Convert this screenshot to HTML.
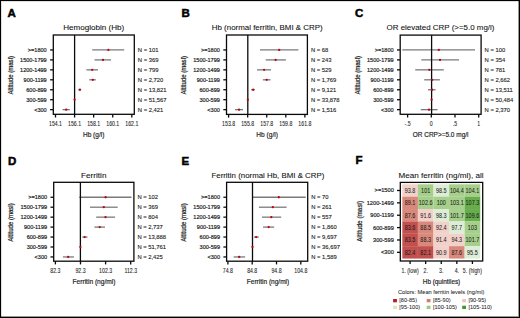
<!DOCTYPE html>
<html><head><meta charset="utf-8"><style>
html,body{margin:0;padding:0;background:#fff;}
body{width:520px;height:318px;overflow:hidden;position:relative;}
#bd{position:absolute;left:0;top:0;width:520px;height:318px;box-sizing:border-box;border:1px solid #000;box-shadow:inset -1px -1px 0 rgba(0,0,0,0.4), inset 1px 1px 0 rgba(0,0,0,0.12);}
svg{display:block;font-family:"Liberation Sans",sans-serif;}
</style></head><body>
<svg width="520" height="318" viewBox="0 0 520 318">
<g>
<rect x="0" y="0" width="520" height="318" fill="#fff"/>
<text transform="translate(7.60,17.20) scale(1.0,1)" font-size="11.5" text-anchor="start" font-weight="bold" fill="#000" stroke="#000" stroke-width="0.5">A</text>
<text transform="translate(93.70,30.40) scale(1.076,1)" font-size="7.5" text-anchor="middle" font-weight="normal" fill="#111" stroke="#111" stroke-width="0.08">Hemoglobin (Hb)</text>
<line x1="50.10" y1="49.95" x2="53.30" y2="49.95" stroke="#0a0a0a" stroke-width="1.3"/>
<text transform="translate(46.70,51.90) scale(0.93,1)" font-size="6.0" text-anchor="end" font-weight="normal" fill="#1e1e1e" stroke="#1e1e1e" stroke-width="0.2">&gt;=1800</text>
<text transform="translate(137.80,51.85) scale(0.99,1)" font-size="5.9" text-anchor="start" font-weight="normal" fill="#1e1e1e" stroke="#1e1e1e" stroke-width="0.12">N = 101</text>
<line x1="92.20" y1="49.95" x2="124.20" y2="49.95" stroke="#7a7a7a" stroke-width="1.3"/>
<line x1="50.10" y1="59.90" x2="53.30" y2="59.90" stroke="#0a0a0a" stroke-width="1.3"/>
<text transform="translate(46.70,61.85) scale(0.93,1)" font-size="6.0" text-anchor="end" font-weight="normal" fill="#1e1e1e" stroke="#1e1e1e" stroke-width="0.2">1500-1799</text>
<text transform="translate(137.80,61.80) scale(0.99,1)" font-size="5.9" text-anchor="start" font-weight="normal" fill="#1e1e1e" stroke="#1e1e1e" stroke-width="0.12">N = 369</text>
<line x1="94.50" y1="59.90" x2="111.00" y2="59.90" stroke="#7a7a7a" stroke-width="1.3"/>
<line x1="50.10" y1="69.85" x2="53.30" y2="69.85" stroke="#0a0a0a" stroke-width="1.3"/>
<text transform="translate(46.70,71.80) scale(0.93,1)" font-size="6.0" text-anchor="end" font-weight="normal" fill="#1e1e1e" stroke="#1e1e1e" stroke-width="0.2">1200-1499</text>
<text transform="translate(137.80,71.75) scale(0.99,1)" font-size="5.9" text-anchor="start" font-weight="normal" fill="#1e1e1e" stroke="#1e1e1e" stroke-width="0.12">N = 799</text>
<line x1="86.40" y1="69.85" x2="98.00" y2="69.85" stroke="#7a7a7a" stroke-width="1.3"/>
<line x1="50.10" y1="79.80" x2="53.30" y2="79.80" stroke="#0a0a0a" stroke-width="1.3"/>
<text transform="translate(46.70,81.75) scale(0.93,1)" font-size="6.0" text-anchor="end" font-weight="normal" fill="#1e1e1e" stroke="#1e1e1e" stroke-width="0.2">900-1199</text>
<text transform="translate(137.80,81.70) scale(0.99,1)" font-size="5.9" text-anchor="start" font-weight="normal" fill="#1e1e1e" stroke="#1e1e1e" stroke-width="0.12">N = 2,720</text>
<line x1="89.30" y1="79.80" x2="95.80" y2="79.80" stroke="#7a7a7a" stroke-width="1.3"/>
<line x1="50.10" y1="89.75" x2="53.30" y2="89.75" stroke="#0a0a0a" stroke-width="1.3"/>
<text transform="translate(46.70,91.70) scale(0.93,1)" font-size="6.0" text-anchor="end" font-weight="normal" fill="#1e1e1e" stroke="#1e1e1e" stroke-width="0.2">600-899</text>
<text transform="translate(137.80,91.65) scale(0.99,1)" font-size="5.9" text-anchor="start" font-weight="normal" fill="#1e1e1e" stroke="#1e1e1e" stroke-width="0.12">N = 13,821</text>
<line x1="78.30" y1="89.75" x2="81.20" y2="89.75" stroke="#7a7a7a" stroke-width="1.3"/>
<line x1="50.10" y1="99.70" x2="53.30" y2="99.70" stroke="#0a0a0a" stroke-width="1.3"/>
<text transform="translate(46.70,101.65) scale(0.93,1)" font-size="6.0" text-anchor="end" font-weight="normal" fill="#1e1e1e" stroke="#1e1e1e" stroke-width="0.2">300-599</text>
<text transform="translate(137.80,101.60) scale(0.99,1)" font-size="5.9" text-anchor="start" font-weight="normal" fill="#1e1e1e" stroke="#1e1e1e" stroke-width="0.12">N = 51,567</text>
<line x1="50.10" y1="109.65" x2="53.30" y2="109.65" stroke="#0a0a0a" stroke-width="1.3"/>
<text transform="translate(46.70,111.60) scale(0.93,1)" font-size="6.0" text-anchor="end" font-weight="normal" fill="#1e1e1e" stroke="#1e1e1e" stroke-width="0.2">&lt;300</text>
<text transform="translate(137.80,111.55) scale(0.99,1)" font-size="5.9" text-anchor="start" font-weight="normal" fill="#1e1e1e" stroke="#1e1e1e" stroke-width="0.12">N = 2,421</text>
<line x1="62.50" y1="109.65" x2="69.80" y2="109.65" stroke="#7a7a7a" stroke-width="1.3"/>
<line x1="74.60" y1="35.00" x2="74.60" y2="114.30" stroke="#0a0a0a" stroke-width="1.3"/>
<circle cx="108.40" cy="49.95" r="1.15" fill="#c2000e"/>
<circle cx="103.00" cy="59.90" r="1.15" fill="#c2000e"/>
<circle cx="92.20" cy="69.85" r="1.15" fill="#c2000e"/>
<circle cx="92.80" cy="79.80" r="1.15" fill="#c2000e"/>
<circle cx="79.90" cy="89.75" r="1.15" fill="#c2000e"/>
<circle cx="74.60" cy="99.70" r="1.15" fill="#c2000e"/>
<circle cx="66.20" cy="109.65" r="1.15" fill="#c2000e"/>
<rect x="53.30" y="35.00" width="81.00" height="79.30" fill="none" stroke="#0a0a0a" stroke-width="1.3"/>
<line x1="55.50" y1="114.30" x2="55.50" y2="117.50" stroke="#0a0a0a" stroke-width="1.3"/>
<text transform="translate(55.50,126.30) scale(0.79,1)" font-size="6.6" text-anchor="middle" font-weight="normal" fill="#1e1e1e" stroke="#1e1e1e" stroke-width="0.08">154.1</text>
<line x1="74.58" y1="114.30" x2="74.58" y2="117.50" stroke="#0a0a0a" stroke-width="1.3"/>
<text transform="translate(74.58,126.30) scale(0.79,1)" font-size="6.6" text-anchor="middle" font-weight="normal" fill="#1e1e1e" stroke="#1e1e1e" stroke-width="0.08">156.1</text>
<line x1="93.66" y1="114.30" x2="93.66" y2="117.50" stroke="#0a0a0a" stroke-width="1.3"/>
<text transform="translate(93.66,126.30) scale(0.79,1)" font-size="6.6" text-anchor="middle" font-weight="normal" fill="#1e1e1e" stroke="#1e1e1e" stroke-width="0.08">158.1</text>
<line x1="112.74" y1="114.30" x2="112.74" y2="117.50" stroke="#0a0a0a" stroke-width="1.3"/>
<text transform="translate(112.74,126.30) scale(0.79,1)" font-size="6.6" text-anchor="middle" font-weight="normal" fill="#1e1e1e" stroke="#1e1e1e" stroke-width="0.08">160.1</text>
<line x1="131.82" y1="114.30" x2="131.82" y2="117.50" stroke="#0a0a0a" stroke-width="1.3"/>
<text transform="translate(131.82,126.30) scale(0.79,1)" font-size="6.6" text-anchor="middle" font-weight="normal" fill="#1e1e1e" stroke="#1e1e1e" stroke-width="0.08">162.1</text>
<text transform="translate(93.65,136.70) scale(0.8517,1)" font-size="7.7" text-anchor="middle" font-weight="normal" fill="#1e1e1e" stroke="#1e1e1e" stroke-width="0.2">Hb (g/l)</text>
<text transform="translate(13.00,75.30) rotate(-90) scale(0.8882,1)" font-size="6.8" text-anchor="middle" font-weight="normal" fill="#1e1e1e" stroke="#1e1e1e" stroke-width="0.2">Altitude (masl)</text>
<text transform="translate(181.60,17.20) scale(1.0,1)" font-size="11.5" text-anchor="start" font-weight="bold" fill="#000" stroke="#000" stroke-width="0.5">B</text>
<text transform="translate(267.20,30.40) scale(1.057,1)" font-size="7.5" text-anchor="middle" font-weight="normal" fill="#111" stroke="#111" stroke-width="0.08">Hb (normal ferritin, BMI &amp; CRP)</text>
<line x1="223.30" y1="49.95" x2="226.50" y2="49.95" stroke="#0a0a0a" stroke-width="1.3"/>
<text transform="translate(219.90,51.90) scale(0.93,1)" font-size="6.0" text-anchor="end" font-weight="normal" fill="#1e1e1e" stroke="#1e1e1e" stroke-width="0.2">&gt;=1800</text>
<text transform="translate(310.90,51.85) scale(0.99,1)" font-size="5.9" text-anchor="start" font-weight="normal" fill="#1e1e1e" stroke="#1e1e1e" stroke-width="0.12">N = 68</text>
<line x1="260.00" y1="49.95" x2="298.40" y2="49.95" stroke="#7a7a7a" stroke-width="1.3"/>
<line x1="223.30" y1="59.90" x2="226.50" y2="59.90" stroke="#0a0a0a" stroke-width="1.3"/>
<text transform="translate(219.90,61.85) scale(0.93,1)" font-size="6.0" text-anchor="end" font-weight="normal" fill="#1e1e1e" stroke="#1e1e1e" stroke-width="0.2">1500-1799</text>
<text transform="translate(310.90,61.80) scale(0.99,1)" font-size="5.9" text-anchor="start" font-weight="normal" fill="#1e1e1e" stroke="#1e1e1e" stroke-width="0.12">N = 243</text>
<line x1="265.70" y1="59.90" x2="285.90" y2="59.90" stroke="#7a7a7a" stroke-width="1.3"/>
<line x1="223.30" y1="69.85" x2="226.50" y2="69.85" stroke="#0a0a0a" stroke-width="1.3"/>
<text transform="translate(219.90,71.80) scale(0.93,1)" font-size="6.0" text-anchor="end" font-weight="normal" fill="#1e1e1e" stroke="#1e1e1e" stroke-width="0.2">1200-1499</text>
<text transform="translate(310.90,71.75) scale(0.99,1)" font-size="5.9" text-anchor="start" font-weight="normal" fill="#1e1e1e" stroke="#1e1e1e" stroke-width="0.12">N = 529</text>
<line x1="257.10" y1="69.85" x2="271.00" y2="69.85" stroke="#7a7a7a" stroke-width="1.3"/>
<line x1="223.30" y1="79.80" x2="226.50" y2="79.80" stroke="#0a0a0a" stroke-width="1.3"/>
<text transform="translate(219.90,81.75) scale(0.93,1)" font-size="6.0" text-anchor="end" font-weight="normal" fill="#1e1e1e" stroke="#1e1e1e" stroke-width="0.2">900-1199</text>
<text transform="translate(310.90,81.70) scale(0.99,1)" font-size="5.9" text-anchor="start" font-weight="normal" fill="#1e1e1e" stroke="#1e1e1e" stroke-width="0.12">N = 1,769</text>
<line x1="262.90" y1="79.80" x2="270.50" y2="79.80" stroke="#7a7a7a" stroke-width="1.3"/>
<line x1="223.30" y1="89.75" x2="226.50" y2="89.75" stroke="#0a0a0a" stroke-width="1.3"/>
<text transform="translate(219.90,91.70) scale(0.93,1)" font-size="6.0" text-anchor="end" font-weight="normal" fill="#1e1e1e" stroke="#1e1e1e" stroke-width="0.2">600-899</text>
<text transform="translate(310.90,91.65) scale(0.99,1)" font-size="5.9" text-anchor="start" font-weight="normal" fill="#1e1e1e" stroke="#1e1e1e" stroke-width="0.12">N = 9,121</text>
<line x1="251.10" y1="89.75" x2="254.90" y2="89.75" stroke="#7a7a7a" stroke-width="1.3"/>
<line x1="223.30" y1="99.70" x2="226.50" y2="99.70" stroke="#0a0a0a" stroke-width="1.3"/>
<text transform="translate(219.90,101.65) scale(0.93,1)" font-size="6.0" text-anchor="end" font-weight="normal" fill="#1e1e1e" stroke="#1e1e1e" stroke-width="0.2">300-599</text>
<text transform="translate(310.90,101.60) scale(0.99,1)" font-size="5.9" text-anchor="start" font-weight="normal" fill="#1e1e1e" stroke="#1e1e1e" stroke-width="0.12">N = 33,878</text>
<line x1="223.30" y1="109.65" x2="226.50" y2="109.65" stroke="#0a0a0a" stroke-width="1.3"/>
<text transform="translate(219.90,111.60) scale(0.93,1)" font-size="6.0" text-anchor="end" font-weight="normal" fill="#1e1e1e" stroke="#1e1e1e" stroke-width="0.2">&lt;300</text>
<text transform="translate(310.90,111.55) scale(0.99,1)" font-size="5.9" text-anchor="start" font-weight="normal" fill="#1e1e1e" stroke="#1e1e1e" stroke-width="0.12">N = 1,516</text>
<line x1="235.00" y1="109.65" x2="243.00" y2="109.65" stroke="#7a7a7a" stroke-width="1.3"/>
<line x1="247.80" y1="35.00" x2="247.80" y2="114.40" stroke="#0a0a0a" stroke-width="1.3"/>
<circle cx="279.20" cy="49.95" r="1.15" fill="#c2000e"/>
<circle cx="275.60" cy="59.90" r="1.15" fill="#c2000e"/>
<circle cx="264.10" cy="69.85" r="1.15" fill="#c2000e"/>
<circle cx="266.70" cy="79.80" r="1.15" fill="#c2000e"/>
<circle cx="253.20" cy="89.75" r="1.15" fill="#c2000e"/>
<circle cx="247.80" cy="99.70" r="1.15" fill="#c2000e"/>
<circle cx="239.00" cy="109.65" r="1.15" fill="#c2000e"/>
<rect x="226.50" y="35.00" width="80.90" height="79.40" fill="none" stroke="#0a0a0a" stroke-width="1.3"/>
<line x1="228.60" y1="114.40" x2="228.60" y2="117.60" stroke="#0a0a0a" stroke-width="1.3"/>
<text transform="translate(228.60,126.40) scale(0.79,1)" font-size="6.6" text-anchor="middle" font-weight="normal" fill="#1e1e1e" stroke="#1e1e1e" stroke-width="0.08">153.8</text>
<line x1="247.67" y1="114.40" x2="247.67" y2="117.60" stroke="#0a0a0a" stroke-width="1.3"/>
<text transform="translate(247.67,126.40) scale(0.79,1)" font-size="6.6" text-anchor="middle" font-weight="normal" fill="#1e1e1e" stroke="#1e1e1e" stroke-width="0.08">155.8</text>
<line x1="266.74" y1="114.40" x2="266.74" y2="117.60" stroke="#0a0a0a" stroke-width="1.3"/>
<text transform="translate(266.74,126.40) scale(0.79,1)" font-size="6.6" text-anchor="middle" font-weight="normal" fill="#1e1e1e" stroke="#1e1e1e" stroke-width="0.08">157.8</text>
<line x1="285.81" y1="114.40" x2="285.81" y2="117.60" stroke="#0a0a0a" stroke-width="1.3"/>
<text transform="translate(285.81,126.40) scale(0.79,1)" font-size="6.6" text-anchor="middle" font-weight="normal" fill="#1e1e1e" stroke="#1e1e1e" stroke-width="0.08">159.8</text>
<line x1="304.88" y1="114.40" x2="304.88" y2="117.60" stroke="#0a0a0a" stroke-width="1.3"/>
<text transform="translate(304.88,126.40) scale(0.79,1)" font-size="6.6" text-anchor="middle" font-weight="normal" fill="#1e1e1e" stroke="#1e1e1e" stroke-width="0.08">161.8</text>
<text transform="translate(267.10,136.80) scale(0.8517,1)" font-size="7.7" text-anchor="middle" font-weight="normal" fill="#1e1e1e" stroke="#1e1e1e" stroke-width="0.2">Hb (g/l)</text>
<text transform="translate(186.30,75.30) rotate(-90) scale(0.8882,1)" font-size="6.8" text-anchor="middle" font-weight="normal" fill="#1e1e1e" stroke="#1e1e1e" stroke-width="0.2">Altitude (masl)</text>
<text transform="translate(355.00,17.20) scale(1.0,1)" font-size="11.5" text-anchor="start" font-weight="bold" fill="#000" stroke="#000" stroke-width="0.5">C</text>
<text transform="translate(440.50,30.40) scale(1.0589,1)" font-size="7.5" text-anchor="middle" font-weight="normal" fill="#111" stroke="#111" stroke-width="0.08">OR elevated CRP (&gt;=5.0 mg/l)</text>
<line x1="397.00" y1="49.95" x2="400.20" y2="49.95" stroke="#0a0a0a" stroke-width="1.3"/>
<text transform="translate(393.60,51.90) scale(0.93,1)" font-size="6.0" text-anchor="end" font-weight="normal" fill="#1e1e1e" stroke="#1e1e1e" stroke-width="0.2">&gt;=1800</text>
<text transform="translate(484.60,51.85) scale(0.99,1)" font-size="5.9" text-anchor="start" font-weight="normal" fill="#1e1e1e" stroke="#1e1e1e" stroke-width="0.12">N = 100</text>
<line x1="402.30" y1="49.95" x2="475.00" y2="49.95" stroke="#7a7a7a" stroke-width="1.3"/>
<line x1="397.00" y1="59.90" x2="400.20" y2="59.90" stroke="#0a0a0a" stroke-width="1.3"/>
<text transform="translate(393.60,61.85) scale(0.93,1)" font-size="6.0" text-anchor="end" font-weight="normal" fill="#1e1e1e" stroke="#1e1e1e" stroke-width="0.2">1500-1799</text>
<text transform="translate(484.60,61.80) scale(0.99,1)" font-size="5.9" text-anchor="start" font-weight="normal" fill="#1e1e1e" stroke="#1e1e1e" stroke-width="0.12">N = 354</text>
<line x1="421.30" y1="59.90" x2="459.00" y2="59.90" stroke="#7a7a7a" stroke-width="1.3"/>
<line x1="397.00" y1="69.85" x2="400.20" y2="69.85" stroke="#0a0a0a" stroke-width="1.3"/>
<text transform="translate(393.60,71.80) scale(0.93,1)" font-size="6.0" text-anchor="end" font-weight="normal" fill="#1e1e1e" stroke="#1e1e1e" stroke-width="0.2">1200-1499</text>
<text transform="translate(484.60,71.75) scale(0.99,1)" font-size="5.9" text-anchor="start" font-weight="normal" fill="#1e1e1e" stroke="#1e1e1e" stroke-width="0.12">N = 781</text>
<line x1="415.20" y1="69.85" x2="443.80" y2="69.85" stroke="#7a7a7a" stroke-width="1.3"/>
<line x1="397.00" y1="79.80" x2="400.20" y2="79.80" stroke="#0a0a0a" stroke-width="1.3"/>
<text transform="translate(393.60,81.75) scale(0.93,1)" font-size="6.0" text-anchor="end" font-weight="normal" fill="#1e1e1e" stroke="#1e1e1e" stroke-width="0.2">900-1199</text>
<text transform="translate(484.60,81.70) scale(0.99,1)" font-size="5.9" text-anchor="start" font-weight="normal" fill="#1e1e1e" stroke="#1e1e1e" stroke-width="0.12">N = 2,662</text>
<line x1="424.20" y1="79.80" x2="439.90" y2="79.80" stroke="#7a7a7a" stroke-width="1.3"/>
<line x1="397.00" y1="89.75" x2="400.20" y2="89.75" stroke="#0a0a0a" stroke-width="1.3"/>
<text transform="translate(393.60,91.70) scale(0.93,1)" font-size="6.0" text-anchor="end" font-weight="normal" fill="#1e1e1e" stroke="#1e1e1e" stroke-width="0.2">600-899</text>
<text transform="translate(484.60,91.65) scale(0.99,1)" font-size="5.9" text-anchor="start" font-weight="normal" fill="#1e1e1e" stroke="#1e1e1e" stroke-width="0.12">N = 13,511</text>
<line x1="428.00" y1="89.75" x2="435.60" y2="89.75" stroke="#7a7a7a" stroke-width="1.3"/>
<line x1="397.00" y1="99.70" x2="400.20" y2="99.70" stroke="#0a0a0a" stroke-width="1.3"/>
<text transform="translate(393.60,101.65) scale(0.93,1)" font-size="6.0" text-anchor="end" font-weight="normal" fill="#1e1e1e" stroke="#1e1e1e" stroke-width="0.2">300-599</text>
<text transform="translate(484.60,101.60) scale(0.99,1)" font-size="5.9" text-anchor="start" font-weight="normal" fill="#1e1e1e" stroke="#1e1e1e" stroke-width="0.12">N = 50,484</text>
<line x1="397.00" y1="109.65" x2="400.20" y2="109.65" stroke="#0a0a0a" stroke-width="1.3"/>
<text transform="translate(393.60,111.60) scale(0.93,1)" font-size="6.0" text-anchor="end" font-weight="normal" fill="#1e1e1e" stroke="#1e1e1e" stroke-width="0.2">&lt;300</text>
<text transform="translate(484.60,111.55) scale(0.99,1)" font-size="5.9" text-anchor="start" font-weight="normal" fill="#1e1e1e" stroke="#1e1e1e" stroke-width="0.12">N = 2,370</text>
<line x1="420.80" y1="109.65" x2="437.50" y2="109.65" stroke="#7a7a7a" stroke-width="1.3"/>
<line x1="431.60" y1="35.10" x2="431.60" y2="114.30" stroke="#0a0a0a" stroke-width="1.3"/>
<circle cx="438.80" cy="49.95" r="1.15" fill="#c2000e"/>
<circle cx="440.00" cy="59.90" r="1.15" fill="#c2000e"/>
<circle cx="429.30" cy="69.85" r="1.15" fill="#c2000e"/>
<circle cx="432.20" cy="79.80" r="1.15" fill="#c2000e"/>
<circle cx="432.00" cy="89.75" r="1.15" fill="#c2000e"/>
<circle cx="431.60" cy="99.70" r="1.15" fill="#c2000e"/>
<circle cx="429.00" cy="109.65" r="1.15" fill="#c2000e"/>
<rect x="400.20" y="35.10" width="80.90" height="79.20" fill="none" stroke="#0a0a0a" stroke-width="1.3"/>
<line x1="407.60" y1="114.30" x2="407.60" y2="117.50" stroke="#0a0a0a" stroke-width="1.3"/>
<text transform="translate(407.60,126.30) scale(0.79,1)" font-size="6.6" text-anchor="middle" font-weight="normal" fill="#1e1e1e" stroke="#1e1e1e" stroke-width="0.08">-.5</text>
<line x1="431.30" y1="114.30" x2="431.30" y2="117.50" stroke="#0a0a0a" stroke-width="1.3"/>
<text transform="translate(431.30,126.30) scale(0.79,1)" font-size="6.6" text-anchor="middle" font-weight="normal" fill="#1e1e1e" stroke="#1e1e1e" stroke-width="0.08">0</text>
<line x1="455.00" y1="114.30" x2="455.00" y2="117.50" stroke="#0a0a0a" stroke-width="1.3"/>
<text transform="translate(455.00,126.30) scale(0.79,1)" font-size="6.6" text-anchor="middle" font-weight="normal" fill="#1e1e1e" stroke="#1e1e1e" stroke-width="0.08">.5</text>
<line x1="478.70" y1="114.30" x2="478.70" y2="117.50" stroke="#0a0a0a" stroke-width="1.3"/>
<text transform="translate(478.70,126.30) scale(0.79,1)" font-size="6.6" text-anchor="middle" font-weight="normal" fill="#1e1e1e" stroke="#1e1e1e" stroke-width="0.08">1</text>
<text transform="translate(440.60,136.70) scale(0.8412,1)" font-size="7.7" text-anchor="middle" font-weight="normal" fill="#1e1e1e" stroke="#1e1e1e" stroke-width="0.2">OR CRP&gt;=5.0 mg/l</text>
<text transform="translate(359.70,75.30) rotate(-90) scale(0.8882,1)" font-size="6.8" text-anchor="middle" font-weight="normal" fill="#1e1e1e" stroke="#1e1e1e" stroke-width="0.2">Altitude (masl)</text>
<text transform="translate(7.90,164.50) scale(1.0,1)" font-size="11.5" text-anchor="start" font-weight="bold" fill="#000" stroke="#000" stroke-width="0.5">D</text>
<text transform="translate(93.70,177.70) scale(1.0928,1)" font-size="7.5" text-anchor="middle" font-weight="normal" fill="#111" stroke="#111" stroke-width="0.08">Ferritin</text>
<line x1="50.50" y1="197.25" x2="53.70" y2="197.25" stroke="#0a0a0a" stroke-width="1.3"/>
<text transform="translate(47.10,199.20) scale(0.93,1)" font-size="6.0" text-anchor="end" font-weight="normal" fill="#1e1e1e" stroke="#1e1e1e" stroke-width="0.2">&gt;=1800</text>
<text transform="translate(137.40,199.15) scale(0.99,1)" font-size="5.9" text-anchor="start" font-weight="normal" fill="#1e1e1e" stroke="#1e1e1e" stroke-width="0.12">N = 102</text>
<line x1="79.30" y1="197.25" x2="131.50" y2="197.25" stroke="#7a7a7a" stroke-width="1.3"/>
<line x1="50.50" y1="207.20" x2="53.70" y2="207.20" stroke="#0a0a0a" stroke-width="1.3"/>
<text transform="translate(47.10,209.15) scale(0.93,1)" font-size="6.0" text-anchor="end" font-weight="normal" fill="#1e1e1e" stroke="#1e1e1e" stroke-width="0.2">1500-1799</text>
<text transform="translate(137.40,209.10) scale(0.99,1)" font-size="5.9" text-anchor="start" font-weight="normal" fill="#1e1e1e" stroke="#1e1e1e" stroke-width="0.12">N = 369</text>
<line x1="90.00" y1="207.20" x2="117.70" y2="207.20" stroke="#7a7a7a" stroke-width="1.3"/>
<line x1="50.50" y1="217.15" x2="53.70" y2="217.15" stroke="#0a0a0a" stroke-width="1.3"/>
<text transform="translate(47.10,219.10) scale(0.93,1)" font-size="6.0" text-anchor="end" font-weight="normal" fill="#1e1e1e" stroke="#1e1e1e" stroke-width="0.2">1200-1499</text>
<text transform="translate(137.40,219.05) scale(0.99,1)" font-size="5.9" text-anchor="start" font-weight="normal" fill="#1e1e1e" stroke="#1e1e1e" stroke-width="0.12">N = 804</text>
<line x1="96.20" y1="217.15" x2="115.10" y2="217.15" stroke="#7a7a7a" stroke-width="1.3"/>
<line x1="50.50" y1="227.10" x2="53.70" y2="227.10" stroke="#0a0a0a" stroke-width="1.3"/>
<text transform="translate(47.10,229.05) scale(0.93,1)" font-size="6.0" text-anchor="end" font-weight="normal" fill="#1e1e1e" stroke="#1e1e1e" stroke-width="0.2">900-1199</text>
<text transform="translate(137.40,229.00) scale(0.99,1)" font-size="5.9" text-anchor="start" font-weight="normal" fill="#1e1e1e" stroke="#1e1e1e" stroke-width="0.12">N = 2,737</text>
<line x1="94.40" y1="227.10" x2="105.00" y2="227.10" stroke="#7a7a7a" stroke-width="1.3"/>
<line x1="50.50" y1="237.05" x2="53.70" y2="237.05" stroke="#0a0a0a" stroke-width="1.3"/>
<text transform="translate(47.10,239.00) scale(0.93,1)" font-size="6.0" text-anchor="end" font-weight="normal" fill="#1e1e1e" stroke="#1e1e1e" stroke-width="0.2">600-899</text>
<text transform="translate(137.40,238.95) scale(0.99,1)" font-size="5.9" text-anchor="start" font-weight="normal" fill="#1e1e1e" stroke="#1e1e1e" stroke-width="0.12">N = 13,888</text>
<line x1="82.40" y1="237.05" x2="87.50" y2="237.05" stroke="#7a7a7a" stroke-width="1.3"/>
<line x1="50.50" y1="247.00" x2="53.70" y2="247.00" stroke="#0a0a0a" stroke-width="1.3"/>
<text transform="translate(47.10,248.95) scale(0.93,1)" font-size="6.0" text-anchor="end" font-weight="normal" fill="#1e1e1e" stroke="#1e1e1e" stroke-width="0.2">300-599</text>
<text transform="translate(137.40,248.90) scale(0.99,1)" font-size="5.9" text-anchor="start" font-weight="normal" fill="#1e1e1e" stroke="#1e1e1e" stroke-width="0.12">N = 51,761</text>
<line x1="50.50" y1="256.95" x2="53.70" y2="256.95" stroke="#0a0a0a" stroke-width="1.3"/>
<text transform="translate(47.10,258.90) scale(0.93,1)" font-size="6.0" text-anchor="end" font-weight="normal" fill="#1e1e1e" stroke="#1e1e1e" stroke-width="0.2">&lt;300</text>
<text transform="translate(137.40,258.85) scale(0.99,1)" font-size="5.9" text-anchor="start" font-weight="normal" fill="#1e1e1e" stroke="#1e1e1e" stroke-width="0.12">N = 2,425</text>
<line x1="62.90" y1="256.95" x2="73.90" y2="256.95" stroke="#7a7a7a" stroke-width="1.3"/>
<line x1="80.40" y1="182.30" x2="80.40" y2="261.20" stroke="#0a0a0a" stroke-width="1.3"/>
<circle cx="105.60" cy="197.25" r="1.15" fill="#c2000e"/>
<circle cx="103.80" cy="207.20" r="1.15" fill="#c2000e"/>
<circle cx="105.50" cy="217.15" r="1.15" fill="#c2000e"/>
<circle cx="99.70" cy="227.10" r="1.15" fill="#c2000e"/>
<circle cx="84.60" cy="237.05" r="1.15" fill="#c2000e"/>
<circle cx="80.40" cy="247.00" r="1.15" fill="#c2000e"/>
<circle cx="68.20" cy="256.95" r="1.15" fill="#c2000e"/>
<rect x="53.70" y="182.30" width="80.20" height="78.90" fill="none" stroke="#0a0a0a" stroke-width="1.3"/>
<line x1="55.40" y1="261.20" x2="55.40" y2="264.40" stroke="#0a0a0a" stroke-width="1.3"/>
<text transform="translate(55.40,273.20) scale(0.79,1)" font-size="6.6" text-anchor="middle" font-weight="normal" fill="#1e1e1e" stroke="#1e1e1e" stroke-width="0.08">82.3</text>
<line x1="80.50" y1="261.20" x2="80.50" y2="264.40" stroke="#0a0a0a" stroke-width="1.3"/>
<text transform="translate(80.50,273.20) scale(0.79,1)" font-size="6.6" text-anchor="middle" font-weight="normal" fill="#1e1e1e" stroke="#1e1e1e" stroke-width="0.08">92.3</text>
<line x1="105.60" y1="261.20" x2="105.60" y2="264.40" stroke="#0a0a0a" stroke-width="1.3"/>
<text transform="translate(105.60,273.20) scale(0.79,1)" font-size="6.6" text-anchor="middle" font-weight="normal" fill="#1e1e1e" stroke="#1e1e1e" stroke-width="0.08">102.3</text>
<line x1="130.70" y1="261.20" x2="130.70" y2="264.40" stroke="#0a0a0a" stroke-width="1.3"/>
<text transform="translate(130.70,273.20) scale(0.79,1)" font-size="6.6" text-anchor="middle" font-weight="normal" fill="#1e1e1e" stroke="#1e1e1e" stroke-width="0.08">112.3</text>
<text transform="translate(94.00,283.60) scale(0.8591,1)" font-size="7.7" text-anchor="middle" font-weight="normal" fill="#1e1e1e" stroke="#1e1e1e" stroke-width="0.2">Ferritin (ng/ml)</text>
<text transform="translate(13.00,222.60) rotate(-90) scale(0.8882,1)" font-size="6.8" text-anchor="middle" font-weight="normal" fill="#1e1e1e" stroke="#1e1e1e" stroke-width="0.2">Altitude (masl)</text>
<text transform="translate(181.60,164.50) scale(1.0,1)" font-size="11.5" text-anchor="start" font-weight="bold" fill="#000" stroke="#000" stroke-width="0.5">E</text>
<text transform="translate(267.90,177.70) scale(1.051,1)" font-size="7.5" text-anchor="middle" font-weight="normal" fill="#111" stroke="#111" stroke-width="0.08">Ferritin (normal Hb, BMI &amp; CRP)</text>
<line x1="223.40" y1="197.25" x2="226.60" y2="197.25" stroke="#0a0a0a" stroke-width="1.3"/>
<text transform="translate(220.00,199.20) scale(0.93,1)" font-size="6.0" text-anchor="end" font-weight="normal" fill="#1e1e1e" stroke="#1e1e1e" stroke-width="0.2">&gt;=1800</text>
<text transform="translate(311.20,199.15) scale(0.99,1)" font-size="5.9" text-anchor="start" font-weight="normal" fill="#1e1e1e" stroke="#1e1e1e" stroke-width="0.12">N = 70</text>
<line x1="252.90" y1="197.25" x2="305.70" y2="197.25" stroke="#7a7a7a" stroke-width="1.3"/>
<line x1="223.40" y1="207.20" x2="226.60" y2="207.20" stroke="#0a0a0a" stroke-width="1.3"/>
<text transform="translate(220.00,209.15) scale(0.93,1)" font-size="6.0" text-anchor="end" font-weight="normal" fill="#1e1e1e" stroke="#1e1e1e" stroke-width="0.2">1500-1799</text>
<text transform="translate(311.20,209.10) scale(0.99,1)" font-size="5.9" text-anchor="start" font-weight="normal" fill="#1e1e1e" stroke="#1e1e1e" stroke-width="0.12">N = 261</text>
<line x1="258.90" y1="207.20" x2="286.60" y2="207.20" stroke="#7a7a7a" stroke-width="1.3"/>
<line x1="223.40" y1="217.15" x2="226.60" y2="217.15" stroke="#0a0a0a" stroke-width="1.3"/>
<text transform="translate(220.00,219.10) scale(0.93,1)" font-size="6.0" text-anchor="end" font-weight="normal" fill="#1e1e1e" stroke="#1e1e1e" stroke-width="0.2">1200-1499</text>
<text transform="translate(311.20,219.05) scale(0.99,1)" font-size="5.9" text-anchor="start" font-weight="normal" fill="#1e1e1e" stroke="#1e1e1e" stroke-width="0.12">N = 557</text>
<line x1="262.00" y1="217.15" x2="281.20" y2="217.15" stroke="#7a7a7a" stroke-width="1.3"/>
<line x1="223.40" y1="227.10" x2="226.60" y2="227.10" stroke="#0a0a0a" stroke-width="1.3"/>
<text transform="translate(220.00,229.05) scale(0.93,1)" font-size="6.0" text-anchor="end" font-weight="normal" fill="#1e1e1e" stroke="#1e1e1e" stroke-width="0.2">900-1199</text>
<text transform="translate(311.20,229.00) scale(0.99,1)" font-size="5.9" text-anchor="start" font-weight="normal" fill="#1e1e1e" stroke="#1e1e1e" stroke-width="0.12">N = 1,860</text>
<line x1="263.00" y1="227.10" x2="274.20" y2="227.10" stroke="#7a7a7a" stroke-width="1.3"/>
<line x1="223.40" y1="237.05" x2="226.60" y2="237.05" stroke="#0a0a0a" stroke-width="1.3"/>
<text transform="translate(220.00,239.00) scale(0.93,1)" font-size="6.0" text-anchor="end" font-weight="normal" fill="#1e1e1e" stroke="#1e1e1e" stroke-width="0.2">600-899</text>
<text transform="translate(311.20,238.95) scale(0.99,1)" font-size="5.9" text-anchor="start" font-weight="normal" fill="#1e1e1e" stroke="#1e1e1e" stroke-width="0.12">N = 9,697</text>
<line x1="254.00" y1="237.05" x2="258.70" y2="237.05" stroke="#7a7a7a" stroke-width="1.3"/>
<line x1="223.40" y1="247.00" x2="226.60" y2="247.00" stroke="#0a0a0a" stroke-width="1.3"/>
<text transform="translate(220.00,248.95) scale(0.93,1)" font-size="6.0" text-anchor="end" font-weight="normal" fill="#1e1e1e" stroke="#1e1e1e" stroke-width="0.2">300-599</text>
<text transform="translate(311.20,248.90) scale(0.99,1)" font-size="5.9" text-anchor="start" font-weight="normal" fill="#1e1e1e" stroke="#1e1e1e" stroke-width="0.12">N = 36,697</text>
<line x1="223.40" y1="256.95" x2="226.60" y2="256.95" stroke="#0a0a0a" stroke-width="1.3"/>
<text transform="translate(220.00,258.90) scale(0.93,1)" font-size="6.0" text-anchor="end" font-weight="normal" fill="#1e1e1e" stroke="#1e1e1e" stroke-width="0.2">&lt;300</text>
<text transform="translate(311.20,258.85) scale(0.99,1)" font-size="5.9" text-anchor="start" font-weight="normal" fill="#1e1e1e" stroke="#1e1e1e" stroke-width="0.12">N = 1,589</text>
<line x1="233.60" y1="256.95" x2="245.10" y2="256.95" stroke="#7a7a7a" stroke-width="1.3"/>
<line x1="252.50" y1="182.30" x2="252.50" y2="261.20" stroke="#0a0a0a" stroke-width="1.3"/>
<circle cx="278.80" cy="197.25" r="1.15" fill="#c2000e"/>
<circle cx="272.80" cy="207.20" r="1.15" fill="#c2000e"/>
<circle cx="271.30" cy="217.15" r="1.15" fill="#c2000e"/>
<circle cx="268.70" cy="227.10" r="1.15" fill="#c2000e"/>
<circle cx="256.20" cy="237.05" r="1.15" fill="#c2000e"/>
<circle cx="252.50" cy="247.00" r="1.15" fill="#c2000e"/>
<circle cx="239.20" cy="256.95" r="1.15" fill="#c2000e"/>
<rect x="226.60" y="182.30" width="81.10" height="78.90" fill="none" stroke="#0a0a0a" stroke-width="1.3"/>
<line x1="227.90" y1="261.20" x2="227.90" y2="264.40" stroke="#0a0a0a" stroke-width="1.3"/>
<text transform="translate(227.90,273.20) scale(0.79,1)" font-size="6.6" text-anchor="middle" font-weight="normal" fill="#1e1e1e" stroke="#1e1e1e" stroke-width="0.08">74.8</text>
<line x1="252.20" y1="261.20" x2="252.20" y2="264.40" stroke="#0a0a0a" stroke-width="1.3"/>
<text transform="translate(252.20,273.20) scale(0.79,1)" font-size="6.6" text-anchor="middle" font-weight="normal" fill="#1e1e1e" stroke="#1e1e1e" stroke-width="0.08">84.8</text>
<line x1="276.50" y1="261.20" x2="276.50" y2="264.40" stroke="#0a0a0a" stroke-width="1.3"/>
<text transform="translate(276.50,273.20) scale(0.79,1)" font-size="6.6" text-anchor="middle" font-weight="normal" fill="#1e1e1e" stroke="#1e1e1e" stroke-width="0.08">94.8</text>
<line x1="300.80" y1="261.20" x2="300.80" y2="264.40" stroke="#0a0a0a" stroke-width="1.3"/>
<text transform="translate(300.80,273.20) scale(0.79,1)" font-size="6.6" text-anchor="middle" font-weight="normal" fill="#1e1e1e" stroke="#1e1e1e" stroke-width="0.08">104.8</text>
<text transform="translate(268.00,283.60) scale(0.8491,1)" font-size="7.7" text-anchor="middle" font-weight="normal" fill="#1e1e1e" stroke="#1e1e1e" stroke-width="0.2">Ferritin (ng/ml)</text>
<text transform="translate(186.30,222.60) rotate(-90) scale(0.8882,1)" font-size="6.8" text-anchor="middle" font-weight="normal" fill="#1e1e1e" stroke="#1e1e1e" stroke-width="0.2">Altitude (masl)</text>
<text transform="translate(355.60,164.40) scale(1.0,1)" font-size="11.5" text-anchor="start" font-weight="bold" fill="#000" stroke="#000" stroke-width="0.5">F</text>
<text transform="translate(441.00,178.10) scale(1.0791,1)" font-size="7.5" text-anchor="middle" font-weight="normal" fill="#111" stroke="#111" stroke-width="0.08">Mean ferritin (ng/ml), all</text>
<rect x="402.30" y="184.30" width="15.63" height="12.42" fill="#f2d1ca"/>
<rect x="417.88" y="184.30" width="15.63" height="12.42" fill="#a5cf8b"/>
<rect x="433.46" y="184.30" width="15.63" height="12.42" fill="#deedd6"/>
<rect x="449.04" y="184.30" width="15.63" height="12.42" fill="#a5cf8b"/>
<rect x="464.62" y="184.30" width="15.63" height="12.42" fill="#a5cf8b"/>
<rect x="402.30" y="196.67" width="15.63" height="12.42" fill="#d9887c"/>
<rect x="417.88" y="196.67" width="15.63" height="12.42" fill="#a5cf8b"/>
<rect x="433.46" y="196.67" width="15.63" height="12.42" fill="#a5cf8b"/>
<rect x="449.04" y="196.67" width="15.63" height="12.42" fill="#a5cf8b"/>
<rect x="464.62" y="196.67" width="15.63" height="12.42" fill="#68ad4c"/>
<rect x="402.30" y="209.04" width="15.63" height="12.42" fill="#d9887c"/>
<rect x="417.88" y="209.04" width="15.63" height="12.42" fill="#f2d1ca"/>
<rect x="433.46" y="209.04" width="15.63" height="12.42" fill="#deedd6"/>
<rect x="449.04" y="209.04" width="15.63" height="12.42" fill="#a5cf8b"/>
<rect x="464.62" y="209.04" width="15.63" height="12.42" fill="#68ad4c"/>
<rect x="402.30" y="221.41" width="15.63" height="12.42" fill="#c2504e"/>
<rect x="417.88" y="221.41" width="15.63" height="12.42" fill="#d9887c"/>
<rect x="433.46" y="221.41" width="15.63" height="12.42" fill="#f2d1ca"/>
<rect x="449.04" y="221.41" width="15.63" height="12.42" fill="#deedd6"/>
<rect x="464.62" y="221.41" width="15.63" height="12.42" fill="#a5cf8b"/>
<rect x="402.30" y="233.78" width="15.63" height="12.42" fill="#c2504e"/>
<rect x="417.88" y="233.78" width="15.63" height="12.42" fill="#d9887c"/>
<rect x="433.46" y="233.78" width="15.63" height="12.42" fill="#f2d1ca"/>
<rect x="449.04" y="233.78" width="15.63" height="12.42" fill="#f2d1ca"/>
<rect x="464.62" y="233.78" width="15.63" height="12.42" fill="#a5cf8b"/>
<rect x="402.30" y="246.15" width="15.63" height="12.42" fill="#c2504e"/>
<rect x="417.88" y="246.15" width="15.63" height="12.42" fill="#c2504e"/>
<rect x="433.46" y="246.15" width="15.63" height="12.42" fill="#f2d1ca"/>
<rect x="449.04" y="246.15" width="15.63" height="12.42" fill="#d9887c"/>
<rect x="464.62" y="246.15" width="15.63" height="12.42" fill="#deedd6"/>
<text transform="translate(410.09,192.89) scale(0.82,1)" font-size="6.7" text-anchor="middle" font-weight="normal" fill="#1a1a1a" stroke="#1a1a1a" stroke-width="0.04">93.8</text>
<text transform="translate(425.67,192.89) scale(0.82,1)" font-size="6.7" text-anchor="middle" font-weight="normal" fill="#1a1a1a" stroke="#1a1a1a" stroke-width="0.04">101</text>
<text transform="translate(441.25,192.89) scale(0.82,1)" font-size="6.7" text-anchor="middle" font-weight="normal" fill="#1a1a1a" stroke="#1a1a1a" stroke-width="0.04">98.5</text>
<text transform="translate(456.83,192.89) scale(0.82,1)" font-size="6.7" text-anchor="middle" font-weight="normal" fill="#1a1a1a" stroke="#1a1a1a" stroke-width="0.04">104.4</text>
<text transform="translate(472.41,192.89) scale(0.82,1)" font-size="6.7" text-anchor="middle" font-weight="normal" fill="#1a1a1a" stroke="#1a1a1a" stroke-width="0.04">104.1</text>
<line x1="397.00" y1="190.49" x2="400.30" y2="190.49" stroke="#0a0a0a" stroke-width="1.3"/>
<text transform="translate(393.80,192.49) scale(0.93,1)" font-size="6.1" text-anchor="end" font-weight="normal" fill="#1e1e1e" stroke="#1e1e1e" stroke-width="0.2">&gt;=1500</text>
<text transform="translate(410.09,205.26) scale(0.82,1)" font-size="6.7" text-anchor="middle" font-weight="normal" fill="#1a1a1a" stroke="#1a1a1a" stroke-width="0.04">89.1</text>
<text transform="translate(425.67,205.26) scale(0.82,1)" font-size="6.7" text-anchor="middle" font-weight="normal" fill="#1a1a1a" stroke="#1a1a1a" stroke-width="0.04">102.6</text>
<text transform="translate(441.25,205.26) scale(0.82,1)" font-size="6.7" text-anchor="middle" font-weight="normal" fill="#1a1a1a" stroke="#1a1a1a" stroke-width="0.04">100</text>
<text transform="translate(456.83,205.26) scale(0.82,1)" font-size="6.7" text-anchor="middle" font-weight="normal" fill="#1a1a1a" stroke="#1a1a1a" stroke-width="0.04">103.1</text>
<text transform="translate(472.41,205.26) scale(0.82,1)" font-size="6.7" text-anchor="middle" font-weight="normal" fill="#1a1a1a" stroke="#1a1a1a" stroke-width="0.04">107.3</text>
<line x1="397.00" y1="202.86" x2="400.30" y2="202.86" stroke="#0a0a0a" stroke-width="1.3"/>
<text transform="translate(393.80,204.86) scale(0.93,1)" font-size="6.1" text-anchor="end" font-weight="normal" fill="#1e1e1e" stroke="#1e1e1e" stroke-width="0.2">1200-1499</text>
<text transform="translate(410.09,217.63) scale(0.82,1)" font-size="6.7" text-anchor="middle" font-weight="normal" fill="#1a1a1a" stroke="#1a1a1a" stroke-width="0.04">87.6</text>
<text transform="translate(425.67,217.63) scale(0.82,1)" font-size="6.7" text-anchor="middle" font-weight="normal" fill="#1a1a1a" stroke="#1a1a1a" stroke-width="0.04">91.6</text>
<text transform="translate(441.25,217.63) scale(0.82,1)" font-size="6.7" text-anchor="middle" font-weight="normal" fill="#1a1a1a" stroke="#1a1a1a" stroke-width="0.04">98.3</text>
<text transform="translate(456.83,217.63) scale(0.82,1)" font-size="6.7" text-anchor="middle" font-weight="normal" fill="#1a1a1a" stroke="#1a1a1a" stroke-width="0.04">101.7</text>
<text transform="translate(472.41,217.63) scale(0.82,1)" font-size="6.7" text-anchor="middle" font-weight="normal" fill="#1a1a1a" stroke="#1a1a1a" stroke-width="0.04">109.6</text>
<line x1="397.00" y1="215.23" x2="400.30" y2="215.23" stroke="#0a0a0a" stroke-width="1.3"/>
<text transform="translate(393.80,217.23) scale(0.93,1)" font-size="6.1" text-anchor="end" font-weight="normal" fill="#1e1e1e" stroke="#1e1e1e" stroke-width="0.2">900-1199</text>
<text transform="translate(410.09,230.00) scale(0.82,1)" font-size="6.7" text-anchor="middle" font-weight="normal" fill="#1a1a1a" stroke="#1a1a1a" stroke-width="0.04">83.6</text>
<text transform="translate(425.67,230.00) scale(0.82,1)" font-size="6.7" text-anchor="middle" font-weight="normal" fill="#1a1a1a" stroke="#1a1a1a" stroke-width="0.04">88.5</text>
<text transform="translate(441.25,230.00) scale(0.82,1)" font-size="6.7" text-anchor="middle" font-weight="normal" fill="#1a1a1a" stroke="#1a1a1a" stroke-width="0.04">92.4</text>
<text transform="translate(456.83,230.00) scale(0.82,1)" font-size="6.7" text-anchor="middle" font-weight="normal" fill="#1a1a1a" stroke="#1a1a1a" stroke-width="0.04">97.7</text>
<text transform="translate(472.41,230.00) scale(0.82,1)" font-size="6.7" text-anchor="middle" font-weight="normal" fill="#1a1a1a" stroke="#1a1a1a" stroke-width="0.04">103</text>
<line x1="397.00" y1="227.60" x2="400.30" y2="227.60" stroke="#0a0a0a" stroke-width="1.3"/>
<text transform="translate(393.80,229.60) scale(0.93,1)" font-size="6.1" text-anchor="end" font-weight="normal" fill="#1e1e1e" stroke="#1e1e1e" stroke-width="0.2">600-899</text>
<text transform="translate(410.09,242.37) scale(0.82,1)" font-size="6.7" text-anchor="middle" font-weight="normal" fill="#1a1a1a" stroke="#1a1a1a" stroke-width="0.04">83.5</text>
<text transform="translate(425.67,242.37) scale(0.82,1)" font-size="6.7" text-anchor="middle" font-weight="normal" fill="#1a1a1a" stroke="#1a1a1a" stroke-width="0.04">88.3</text>
<text transform="translate(441.25,242.37) scale(0.82,1)" font-size="6.7" text-anchor="middle" font-weight="normal" fill="#1a1a1a" stroke="#1a1a1a" stroke-width="0.04">91.4</text>
<text transform="translate(456.83,242.37) scale(0.82,1)" font-size="6.7" text-anchor="middle" font-weight="normal" fill="#1a1a1a" stroke="#1a1a1a" stroke-width="0.04">94.3</text>
<text transform="translate(472.41,242.37) scale(0.82,1)" font-size="6.7" text-anchor="middle" font-weight="normal" fill="#1a1a1a" stroke="#1a1a1a" stroke-width="0.04">101.7</text>
<line x1="397.00" y1="239.97" x2="400.30" y2="239.97" stroke="#0a0a0a" stroke-width="1.3"/>
<text transform="translate(393.80,241.97) scale(0.93,1)" font-size="6.1" text-anchor="end" font-weight="normal" fill="#1e1e1e" stroke="#1e1e1e" stroke-width="0.2">300-599</text>
<text transform="translate(410.09,254.74) scale(0.82,1)" font-size="6.7" text-anchor="middle" font-weight="normal" fill="#1a1a1a" stroke="#1a1a1a" stroke-width="0.04">82.4</text>
<text transform="translate(425.67,254.74) scale(0.82,1)" font-size="6.7" text-anchor="middle" font-weight="normal" fill="#1a1a1a" stroke="#1a1a1a" stroke-width="0.04">82.1</text>
<text transform="translate(441.25,254.74) scale(0.82,1)" font-size="6.7" text-anchor="middle" font-weight="normal" fill="#1a1a1a" stroke="#1a1a1a" stroke-width="0.04">90.9</text>
<text transform="translate(456.83,254.74) scale(0.82,1)" font-size="6.7" text-anchor="middle" font-weight="normal" fill="#1a1a1a" stroke="#1a1a1a" stroke-width="0.04">87.6</text>
<text transform="translate(472.41,254.74) scale(0.82,1)" font-size="6.7" text-anchor="middle" font-weight="normal" fill="#1a1a1a" stroke="#1a1a1a" stroke-width="0.04">95.5</text>
<line x1="397.00" y1="252.34" x2="400.30" y2="252.34" stroke="#0a0a0a" stroke-width="1.3"/>
<text transform="translate(393.80,254.34) scale(0.93,1)" font-size="6.1" text-anchor="end" font-weight="normal" fill="#1e1e1e" stroke="#1e1e1e" stroke-width="0.2">&lt;300</text>
<rect x="400.3" y="182.4" width="82.4" height="78.6" fill="none" stroke="#0a0a0a" stroke-width="1.3"/>
<line x1="410.09" y1="261.00" x2="410.09" y2="264.00" stroke="#0a0a0a" stroke-width="1.3"/>
<text transform="translate(410.09,273.00) scale(0.79,1)" font-size="6.6" text-anchor="middle" font-weight="normal" fill="#1e1e1e" stroke="#1e1e1e" stroke-width="0.08">1. (low)</text>
<line x1="425.67" y1="261.00" x2="425.67" y2="264.00" stroke="#0a0a0a" stroke-width="1.3"/>
<text transform="translate(425.67,273.00) scale(0.79,1)" font-size="6.6" text-anchor="middle" font-weight="normal" fill="#1e1e1e" stroke="#1e1e1e" stroke-width="0.08">2.</text>
<line x1="441.25" y1="261.00" x2="441.25" y2="264.00" stroke="#0a0a0a" stroke-width="1.3"/>
<text transform="translate(441.25,273.00) scale(0.79,1)" font-size="6.6" text-anchor="middle" font-weight="normal" fill="#1e1e1e" stroke="#1e1e1e" stroke-width="0.08">3.</text>
<line x1="456.83" y1="261.00" x2="456.83" y2="264.00" stroke="#0a0a0a" stroke-width="1.3"/>
<text transform="translate(456.83,273.00) scale(0.79,1)" font-size="6.6" text-anchor="middle" font-weight="normal" fill="#1e1e1e" stroke="#1e1e1e" stroke-width="0.08">4.</text>
<line x1="472.41" y1="261.00" x2="472.41" y2="264.00" stroke="#0a0a0a" stroke-width="1.3"/>
<text transform="translate(472.41,273.00) scale(0.79,1)" font-size="6.6" text-anchor="middle" font-weight="normal" fill="#1e1e1e" stroke="#1e1e1e" stroke-width="0.08">5. (high)</text>
<text transform="translate(441.50,284.20) scale(0.8267,1)" font-size="7.7" text-anchor="middle" font-weight="normal" fill="#1e1e1e" stroke="#1e1e1e" stroke-width="0.2">Hb (quintiles)</text>
<text transform="translate(362.20,221.30) rotate(-90) scale(0.867,1)" font-size="7.4" text-anchor="middle" font-weight="normal" fill="#1e1e1e" stroke="#1e1e1e" stroke-width="0.2">Altitude (masl)</text>
<text transform="translate(398.00,293.90) scale(0.9629,1)" font-size="5.9" text-anchor="start" font-weight="normal" fill="#1e1e1e" stroke="#1e1e1e" stroke-width="0.05">Colors: Mean ferritin levels (ng/ml)</text>
<rect x="393.10" y="299.00" width="3.80" height="3.30" fill="#b2202a"/>
<text transform="translate(399.30,302.40) scale(0.95,1)" font-size="5.9" text-anchor="start" font-weight="normal" fill="#1e1e1e" stroke="#1e1e1e" stroke-width="0.05">[80-85)</text>
<rect x="426.70" y="299.00" width="3.80" height="3.30" fill="#d47a6f"/>
<text transform="translate(432.90,302.40) scale(0.95,1)" font-size="5.9" text-anchor="start" font-weight="normal" fill="#1e1e1e" stroke="#1e1e1e" stroke-width="0.05">[85-90)</text>
<rect x="462.20" y="299.00" width="3.80" height="3.30" fill="#efc4bb"/>
<text transform="translate(468.40,302.40) scale(0.95,1)" font-size="5.9" text-anchor="start" font-weight="normal" fill="#1e1e1e" stroke="#1e1e1e" stroke-width="0.05">[90-95)</text>
<rect x="393.10" y="305.70" width="3.80" height="3.30" fill="#d5e8c8"/>
<text transform="translate(399.30,309.10) scale(0.95,1)" font-size="5.9" text-anchor="start" font-weight="normal" fill="#1e1e1e" stroke="#1e1e1e" stroke-width="0.05">[95-100)</text>
<rect x="426.70" y="305.70" width="3.80" height="3.30" fill="#9acb7c"/>
<text transform="translate(432.90,309.10) scale(0.95,1)" font-size="5.9" text-anchor="start" font-weight="normal" fill="#1e1e1e" stroke="#1e1e1e" stroke-width="0.05">[100-105)</text>
<rect x="462.20" y="305.70" width="3.80" height="3.30" fill="#3f9a2e"/>
<text transform="translate(468.40,309.10) scale(0.95,1)" font-size="5.9" text-anchor="start" font-weight="normal" fill="#1e1e1e" stroke="#1e1e1e" stroke-width="0.05">[105-110)</text>
</g>
</svg><div id="bd"></div></body></html>
